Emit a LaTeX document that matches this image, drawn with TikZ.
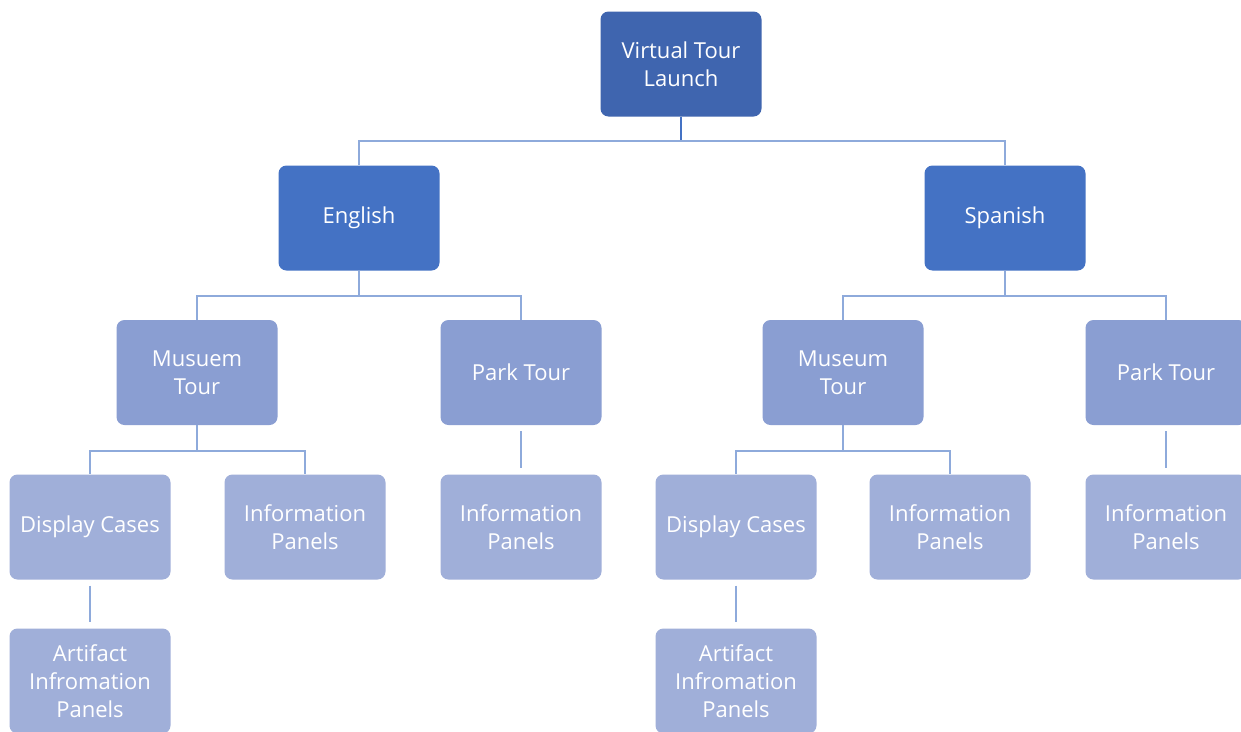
\documentclass[tikz,border=0pt]{standalone}
\usepackage{fontspec}
\setmainfont{Open Sans}
\definecolor{cTop}{HTML}{3F65AF}
\definecolor{cOne}{HTML}{4472C4}
\definecolor{cTwo}{HTML}{8A9ED2}
\definecolor{cThree}{HTML}{A0AFD9}
\definecolor{cLine}{HTML}{8EAADB}
\tikzset{
  box/.style={rounded corners=8pt, minimum width=161pt, minimum height=105pt, align=center, text=white,
    font=\fontsize{22pt}{28pt}\selectfont, inner sep=2pt},
  lvlzero/.style={box, fill=cTop},
  lvlone/.style={box, fill=cOne},
  lvltwo/.style={box, fill=cTwo},
  lvlthree/.style={box, fill=cThree},
  conn/.style={draw=cLine, line width=2.2pt},
  connd/.style={draw=cOne, line width=2.2pt}
}
\begin{document}
\begin{tikzpicture}[x=1pt,y=-1pt]
\clip (0,0) rectangle (1241,731);
\fill[white] (0,0) rectangle (1241,731);
% nodes
\node[lvlzero] (top) at (681,64) {Virtual Tour\\Launch};
\node[lvlone] (eng) at (359,218) {English};
\node[lvlone] (spa) at (1005,218) {Spanish};
\node[lvltwo] (emus) at (197,372.5) {Musuem\\Tour};
\node[lvltwo] (epark) at (521,372.5) {Park Tour};
\node[lvltwo] (smus) at (843,372.5) {Museum\\Tour};
\node[lvltwo] (spark) at (1166,372.5) {Park Tour};
\node[lvlthree] (edisp) at (90,527) {Display Cases};
\node[lvlthree] (einfo) at (305,527) {Information\\Panels};
\node[lvlthree] (epinfo) at (521,527) {Information\\Panels};
\node[lvlthree] (sdisp) at (736,527) {Display Cases};
\node[lvlthree] (sinfo) at (950,527) {Information\\Panels};
\node[lvlthree] (spinfo) at (1166,527) {Information\\Panels};
\node[lvlthree] (eart) at (90,681) {Artifact\\Infromation\\Panels};
\node[lvlthree] (sart) at (736,681) {Artifact\\Infromation\\Panels};
% bus coordinates
\coordinate (b0) at (681,141);
\coordinate (b1) at (359,296);
\coordinate (b2) at (1005,296);
\coordinate (b3) at (197,451);
\coordinate (b4) at (843,451);
% connectors
\draw[connd] (top.south) -- (b0);
\draw[conn] (b0) -| (eng.north);
\draw[conn] (b0) -| (spa.north);
\draw[conn] (eng.south) -- (b1);
\draw[conn] (b1) -| (emus.north);
\draw[conn] (b1) -| (epark.north);
\draw[conn] (spa.south) -- (b2);
\draw[conn] (b2) -| (smus.north);
\draw[conn] (b2) -| (spark.north);
\draw[conn] (emus.south) -- (b3);
\draw[conn] (b3) -| (edisp.north);
\draw[conn] (b3) -| (einfo.north);
\draw[conn] (smus.south) -- (b4);
\draw[conn] (b4) -| (sdisp.north);
\draw[conn] (b4) -| (sinfo.north);
\draw[conn] ([yshift=-6pt]epark.south) -- ([yshift=6pt]epinfo.north);
\draw[conn] ([yshift=-6pt]spark.south) -- ([yshift=6pt]spinfo.north);
\draw[conn] ([yshift=-6pt]edisp.south) -- ([yshift=6pt]eart.north);
\draw[conn] ([yshift=-6pt]sdisp.south) -- ([yshift=6pt]sart.north);
\end{tikzpicture}
\end{document}
